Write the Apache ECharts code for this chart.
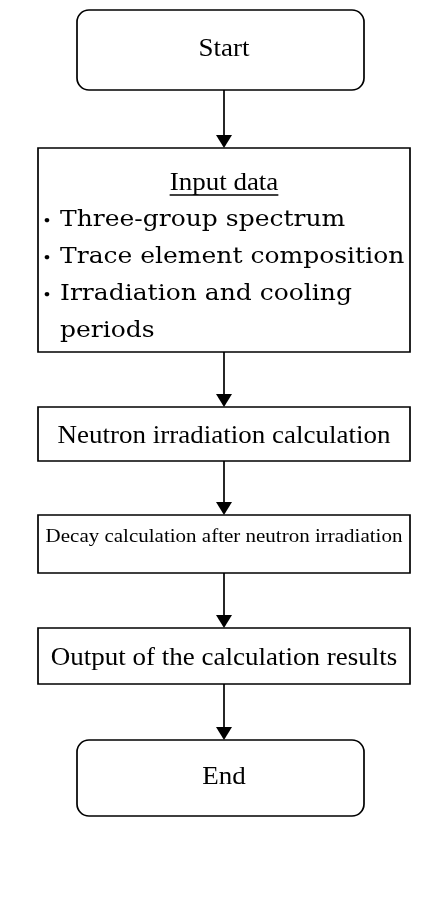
<!DOCTYPE html>
<html>
<head>
<meta charset="utf-8">
<script src="https://cdn.jsdelivr.net/npm/echarts@6/dist/echarts.min.js"></script>
<style>
html,body{margin:0;padding:0;background:#ffffff;}
#c{width:422px;height:900px;}
</style>
</head>
<body>
<div id="c"></div>
<script>
// ---- content (data) ----
const steps = [
  'Start',
  'Input data',
  'Neutron irradiation calculation',
  'Decay calculation after neutron irradiation',
  'Output of the calculation results',
  'End'
];
const stepKinds = ['terminal', 'input', 'process', 'process', 'process', 'terminal'];
const inputItems = [
  'Three-group spectrum',
  'Trace element composition',
  'Irradiation and cooling periods'
];
const bulletMark = '・';

// ---- layout (axis units = canvas pixels) ----
const FRAME = { width: 422, height: 900 };
const LAYOUT = {
  terminalX: [77, 364],
  boxX: [38, 410],
  centerX: 224,
  boxY: [[10, 90], [148, 352], [407, 461], [515, 573], [628, 684], [740, 816]],
  textY: [50, 184, 437, 537, 659, 778],
  fontSize: [27, 27, 27, 21, 27, 27],
  textScaleY: 0.91,
  itemX: 60,
  itemWrap: 350,
  itemY0: 220,
  itemLine: 37,
  bulletX: 47,
  underlineGap: 11,
  headLen: 13,
  headHalf: 8
};
const SERIF = '"Liberation Serif","Times New Roman",serif';
const MINCHO = '"DejaVu Serif",serif';
const CJK = '"Noto Sans CJK JP",sans-serif';
const STROKE = '#000000';

const measureCtx = document.createElement('canvas').getContext('2d');
function textWidth(t, font) { measureCtx.font = font; return measureCtx.measureText(t).width; }
function wrap(t, font, maxW) {
  const words = t.split(' ');
  const lines = [];
  let cur = '';
  words.forEach(w => {
    const cand = cur ? cur + ' ' + w : w;
    if (cur && textWidth(cand, font) > maxW) { lines.push(cur); cur = w; }
    else cur = cand;
  });
  if (cur) lines.push(cur);
  return lines;
}

function label(text, x, y, font, align) {
  return {
    type: 'text', x: x, y: y, scaleX: 1, scaleY: LAYOUT.textScaleY,
    style: { text: text, x: 0, y: 0, align: align, verticalAlign: 'middle', font: font, fill: '#000' }
  };
}

function boxItem(params, api) {
  const i = api.value(0);
  const kind = stepKinds[i];
  const yr = LAYOUT.boxY[i];
  const xr = kind === 'terminal' ? LAYOUT.terminalX : LAYOUT.boxX;
  const p0 = api.coord([xr[0], yr[0]]);
  const p1 = api.coord([xr[1], yr[1]]);
  const children = [{
    type: 'rect',
    shape: { x: p0[0], y: p0[1], width: p1[0] - p0[0], height: p1[1] - p0[1], r: kind === 'terminal' ? 12 : 0 },
    style: { fill: '#ffffff', stroke: STROKE, lineWidth: 1.7 }
  }];
  const cx = api.coord([LAYOUT.centerX, 0])[0];
  const ty = api.coord([0, LAYOUT.textY[i]])[1];
  const font = LAYOUT.fontSize[i] + 'px ' + SERIF;
  children.push(label(steps[i], cx, ty, font, 'center'));
  if (kind === 'input') {
    const w = textWidth(steps[i], font);
    const uy = api.coord([0, LAYOUT.textY[i] + LAYOUT.underlineGap])[1];
    children.push({
      type: 'line',
      shape: { x1: cx - w / 2, y1: uy, x2: cx + w / 2, y2: uy },
      style: { stroke: STROKE, lineWidth: 1.5 }
    });
    const itemFont = '25px ' + MINCHO;
    let line = 0;
    const ix = api.coord([LAYOUT.itemX, 0])[0];
    const bx = api.coord([LAYOUT.bulletX, 0])[0];
    inputItems.forEach(it => {
      const lines = wrap(it, itemFont, LAYOUT.itemWrap);
      const by = api.coord([0, LAYOUT.itemY0 + LAYOUT.itemLine * line])[1];
      children.push(label(bulletMark, bx, by, '22px ' + CJK, 'center'));
      lines.forEach(l => {
        const ly = api.coord([0, LAYOUT.itemY0 + LAYOUT.itemLine * line])[1];
        children.push(label(l, ix, ly, itemFont, 'left'));
        line++;
      });
    });
  }
  return { type: 'group', children: children };
}

function arrowItem(params, api) {
  const i = api.value(0);
  const yFrom = LAYOUT.boxY[i][1];
  const yTo = LAYOUT.boxY[i + 1][0];
  const a = api.coord([LAYOUT.centerX, yFrom]);
  const b = api.coord([LAYOUT.centerX, yTo]);
  const hl = LAYOUT.headLen;
  return {
    type: 'group',
    children: [
      { type: 'line', shape: { x1: a[0], y1: a[1], x2: b[0], y2: b[1] - hl + 2 }, style: { stroke: STROKE, lineWidth: 1.7 } },
      { type: 'polygon', shape: { points: [[b[0], b[1]], [b[0] - LAYOUT.headHalf, b[1] - hl], [b[0] + LAYOUT.headHalf, b[1] - hl]] }, style: { fill: STROKE } }
    ]
  };
}

const chart = echarts.init(document.getElementById('c'), null, { renderer: 'canvas' });
chart.setOption({
  animation: false,
  backgroundColor: '#ffffff',
  grid: { left: 0, right: 0, top: 0, bottom: 0 },
  xAxis: { type: 'value', min: 0, max: FRAME.width, show: false },
  yAxis: { type: 'value', min: 0, max: FRAME.height, inverse: true, show: false },
  series: [
    { type: 'custom', renderItem: arrowItem, data: steps.slice(1).map((s, i) => [i]), z: 1, silent: true },
    { type: 'custom', renderItem: boxItem, data: steps.map((s, i) => [i]), z: 2, silent: true }
  ]
});
</script>
</body>
</html>
